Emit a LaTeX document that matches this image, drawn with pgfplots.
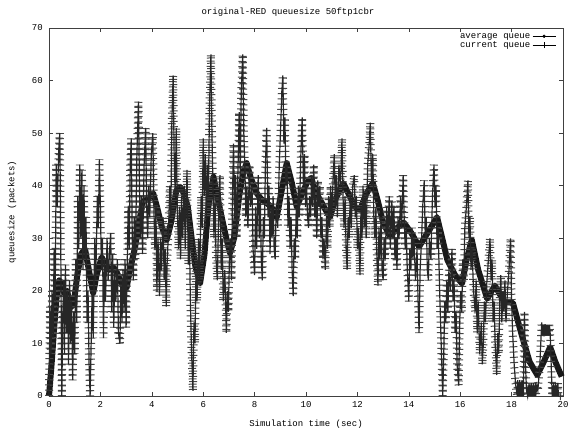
\documentclass[border=0pt]{standalone}
\usepackage{fontspec}
\setmainfont{Liberation Mono}
\usepackage{pgfplots}
\usepackage{pgfplotstable}
\pgfplotsset{compat=1.18}

% average queue (EWMA)
\pgfplotstableread{
t a
0.00 0
0.10 6
0.20 13
0.30 19
0.40 22
0.50 21
0.60 19.5
0.70 20
0.80 18
0.90 17
1.00 19
1.10 23
1.25 27
1.40 28
1.55 24
1.72 19.6
1.85 23
2.05 26.4
2.20 25
2.35 24
2.50 24.5
2.65 23.4
2.85 21
3.02 20.6
3.15 24
3.35 28.3
3.50 33
3.66 37
3.85 37.5
4.05 38.6
4.20 36
4.40 32
4.58 29.7
4.75 33
4.95 39
5.10 39.8
5.25 38.5
5.40 36
5.55 30
5.70 24.5
5.88 21.5
6.05 27
6.20 36
6.40 41.7
6.55 38
6.72 34
6.90 30
7.04 27.2
7.20 30
7.40 38
7.55 42.5
7.69 44.3
7.85 41.5
8.08 38.6
8.25 37.5
8.47 36.7
8.65 36
8.86 34
9.05 39
9.25 44.3
9.45 40.5
9.64 36
9.85 38.5
10.03 40.5
10.20 41.5
10.40 38.5
10.55 37.3
10.75 35.5
10.93 34
11.15 37.5
11.45 40.5
11.70 38
11.90 36
12.10 35.4
12.35 38.5
12.60 40.5
12.80 37
13.00 33
13.27 30.3
13.55 32
13.80 33
14.10 31
14.40 28.4
14.60 30
14.85 32
15.10 34
15.30 30
15.50 25.9
15.80 23
16.07 21.4
16.25 26
16.45 29.7
16.70 24
17.05 18.5
17.35 21
17.70 18
18.05 17.7
18.40 11.5
18.70 6.5
19.00 4
19.25 6.5
19.50 9.3
19.70 6.5
19.95 3.7
}\avgq

% current queue, turning points
\pgfplotstableread{
t q
0.00 0
0.04 17
0.08 8
0.12 20
0.16 11
0.20 28
0.24 18
0.28 44
0.32 36
0.38 47
0.42 50
0.45 34
0.48 12
0.50 0
0.53 14
0.57 22
0.60 8
0.64 25
0.68 12
0.72 20
0.76 6
0.80 22
0.84 10
0.88 18
0.92 3
0.96 16
1.00 8
1.04 26
1.08 14
1.12 38
1.16 28
1.20 44
1.24 30
1.28 43
1.32 24
1.36 40
1.40 26
1.44 34
1.48 14
1.52 20
1.56 6
1.60 0
1.64 10
1.68 20
1.72 11
1.78 30
1.82 22
1.88 38
1.92 32
1.96 45
2.00 36
2.04 24
2.08 30
2.12 11
2.16 26
2.20 18
2.26 30
2.30 22
2.36 28
2.40 31
2.44 16
2.48 27
2.52 13
2.56 24
2.60 18
2.66 26
2.70 12
2.76 10
2.80 22
2.84 14
2.88 24
2.92 16
2.96 26
3.00 13
3.04 24
3.08 36
3.12 28
3.16 44
3.20 49
3.24 30
3.28 22
3.32 34
3.36 26
3.42 46
3.48 56
3.52 40
3.56 30
3.60 38
3.64 27
3.70 44
3.76 51
3.80 36
3.84 30
3.88 40
3.92 34
3.98 46
4.04 50
4.08 36
4.12 28
4.16 36
4.20 20
4.24 30
4.30 19
4.34 30
4.38 24
4.44 34
4.48 22
4.52 28
4.56 17
4.60 26
4.64 30
4.70 40
4.74 34
4.78 52
4.83 61
4.87 46
4.91 38
4.95 51
4.99 36
5.04 28
5.08 36
5.12 26
5.16 38
5.20 30
5.26 40
5.30 28
5.37 43
5.42 25
5.46 32
5.50 18
5.55 8
5.60 1
5.64 14
5.68 10
5.72 24
5.76 18
5.82 30
5.86 22
5.92 38
5.96 32
6.00 49
6.04 38
6.08 46
6.12 34
6.16 44
6.20 38
6.25 56
6.30 65
6.34 50
6.38 40
6.42 30
6.46 38
6.50 26
6.55 22
6.60 34
6.65 42
6.70 24
6.74 30
6.78 18
6.84 24
6.90 12
6.94 20
6.98 16
7.02 26
7.06 30
7.10 22
7.14 38
7.18 48
7.22 34
7.26 42
7.30 30
7.34 40
7.40 54
7.44 42
7.48 58
7.54 65
7.58 50
7.62 44
7.66 34
7.70 40
7.74 32
7.80 44
7.84 36
7.90 40
7.94 28
8.00 23
8.04 36
8.08 28
8.14 42
8.18 30
8.22 38
8.26 26
8.30 22
8.34 34
8.38 30
8.42 44
8.47 51
8.52 34
8.56 40
8.60 27
8.64 36
8.68 30
8.72 38
8.76 28
8.80 26
8.84 36
8.90 32
8.96 44
9.02 52
9.06 58
9.10 61
9.14 48
9.18 53
9.22 40
9.26 44
9.30 32
9.34 38
9.38 28
9.42 34
9.46 24
9.50 19
9.54 30
9.58 26
9.62 36
9.66 30
9.70 40
9.74 34
9.80 46
9.85 53
9.90 40
9.94 46
9.98 36
10.02 40
10.06 34
10.10 32
10.14 38
10.18 34
10.22 42
10.26 36
10.30 44
10.34 34
10.38 38
10.42 30
10.46 41
10.50 36
10.54 40
10.58 30
10.62 34
10.66 26
10.70 30
10.75 24
10.80 34
10.84 28
10.88 38
10.92 32
10.96 40
11.00 34
11.06 42
11.10 46
11.14 36
11.18 42
11.22 34
11.28 44
11.34 40
11.40 49
11.44 38
11.48 32
11.52 38
11.56 28
11.60 24
11.64 34
11.68 30
11.72 38
11.76 32
11.82 40
11.88 42
11.92 34
11.96 38
12.00 28
12.04 32
12.10 23
12.14 36
12.18 30
12.22 40
12.26 32
12.30 38
12.34 30
12.40 44
12.46 48
12.50 52
12.55 40
12.60 46
12.64 34
12.68 30
12.72 36
12.76 26
12.80 21
12.84 32
12.88 26
12.92 34
12.96 24
13.00 22
13.04 30
13.08 26
13.14 36
13.18 30
13.24 38
13.28 28
13.34 37
13.38 30
13.42 36
13.46 26
13.50 30
13.54 24
13.58 34
13.62 30
13.68 38
13.72 32
13.78 42
13.82 34
13.86 28
13.90 32
13.94 24
14.00 18
14.04 28
14.08 24
14.12 32
14.16 26
14.20 30
14.26 22
14.32 28
14.36 18
14.40 12
14.44 24
14.50 30
14.54 36
14.60 41
14.64 30
14.68 34
14.72 24
14.76 22
14.80 30
14.86 26
14.92 38
14.98 44
15.02 36
15.06 40
15.10 28
15.14 32
15.20 20
15.26 10
15.32 0
15.36 8
15.40 18
15.44 14
15.48 22
15.52 16
15.56 24
15.62 20
15.68 28
15.72 18
15.76 22
15.80 12
15.84 16
15.88 6
15.94 2
15.98 14
16.02 20
16.06 16
16.10 26
16.14 22
16.18 32
16.24 36
16.30 41
16.34 30
16.38 34
16.42 24
16.46 28
16.52 20
16.58 16
16.62 22
16.66 12
16.70 18
16.76 8
16.82 14
16.86 6
16.90 10
16.94 18
16.98 14
17.04 22
17.10 26
17.16 30
17.20 22
17.24 26
17.28 14
17.32 18
17.36 10
17.42 4
17.46 12
17.50 8
17.54 18
17.58 23
17.62 14
17.66 20
17.70 16
17.74 22
17.78 14
17.84 20
17.90 24
17.96 30
18.00 18
18.04 12
18.10 6
18.16 2
18.22 0
18.24 3
18.26 0
18.28 2.5
18.30 0
18.32 3
18.34 0
18.36 2.5
18.38 0
18.40 3
18.42 0
18.44 2.5
18.46 0
18.48 10
18.50 16
18.54 6
18.58 1
18.62 0
18.64 2
18.66 0
18.68 2.5
18.70 0
18.72 2
18.74 0
18.76 2.5
18.78 0
18.80 2
18.82 0
18.84 2.5
18.86 0
18.88 2
18.90 0
18.92 2.5
18.94 0
18.98 2
19.02 1
19.10 6
19.17 14
19.20 11.5
19.23 13.5
19.26 11.5
19.29 13.5
19.32 11.5
19.35 13.5
19.38 11.5
19.41 13.5
19.44 11.5
19.47 13.5
19.50 12
19.54 6
19.58 0
19.60 2
19.62 0
19.64 2.5
19.66 0
19.68 2
19.70 0
19.72 2.5
19.74 0
19.76 2
19.78 0
19.80 2.5
19.82 0
19.90 0
20.00 0
}\curq

\begin{document}
\fontsize{9}{10}\selectfont
\begin{tikzpicture}
\begin{axis}[
    scale only axis,
    width=514pt, height=368pt,
    xmin=0, xmax=20, ymin=0, ymax=70,
    xtick={0,2,...,20},
    ytick={0,10,...,70},
    tick align=inside,
    major tick length=4pt,
    axis line style={black!75, line width=0.6pt},
    every tick/.style={black!75, line width=0.6pt},
    /pgf/number format/assume math mode=true,
    ticklabel style={font=\fontsize{9}{10}\selectfont},
    xticklabel style={yshift=-2pt},
    yticklabel style={xshift=-3pt},
    clip=false,
    title={original-RED queuesize 50ftp1cbr},
    every axis title/.style={at={(axis description cs:0.465,1)}, anchor=center, yshift=16pt},
    xlabel={Simulation time (sec)},
    every axis x label/.style={at={(axis description cs:0.5,0)}, anchor=center, yshift=-28pt},
    ylabel={queuesize (packets)},
    every axis y label/.style={at={(axis description cs:0,0.5)}, xshift=-37pt, anchor=center, rotate=90},
    legend style={at={(axis description cs:1,1)}, anchor=north east, draw=none, fill=none,
        font=\fontsize{9}{10}\selectfont, row sep=-2pt, xshift=-4pt, yshift=-1pt},
    legend cell align=right,
    legend plot pos=right,
]
    % average queue: thick line
    \addplot[black!90, line width=6pt, line join=round,
        legend image code/.code={
            \draw[black, line width=0.5pt] (0pt,0pt) -- (23pt,0pt);
            \draw[black, line width=0.5pt, fill=black] (11.5pt,0pt) circle (1.4pt);
        }] table[x=t, y=a] {\avgq};
    \addlegendentry{average queue}

    % current queue: '+' marks stacked at every packet level
    \addplot[black!72, line width=8pt, line join=bevel, line cap=butt,
        dash pattern=on 1pt off 4.257pt, forget plot] table[x=t, y=q] {\curq};
    \addplot[black!85, line width=1.2pt,
        legend image code/.code={
            \draw[black, line width=0.5pt] (0pt,0pt) -- (23pt,0pt);
            \draw[black, line width=0.5pt] (11.5pt,-3pt) -- (11.5pt,3pt);
        }] table[x=t, y=q] {\curq};
    \addlegendentry{current queue}
\end{axis}
\pgfresetboundingbox
\path ([shift={(-49pt,-38pt)}]current axis.south west) rectangle ([shift={(14pt,28pt)}]current axis.north east);
\end{tikzpicture}
\end{document}
